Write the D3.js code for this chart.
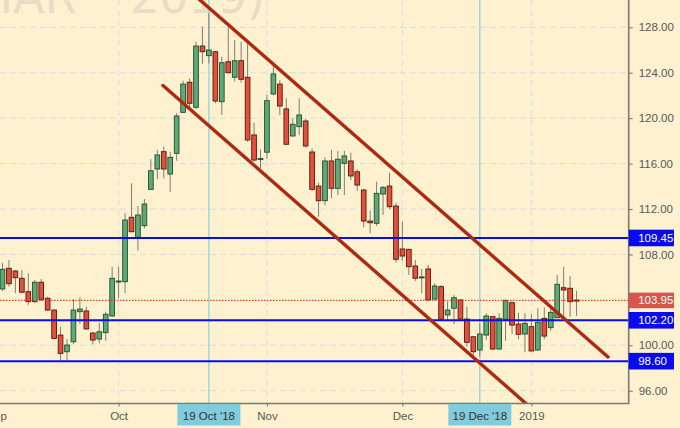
<!DOCTYPE html>
<html><head><meta charset="utf-8">
<script src="https://cdn.jsdelivr.net/npm/d3@7"></script>
<style>
html,body{margin:0;padding:0;background:#fdf1cf;}
svg{display:block;font-family:"Liberation Sans",Arial,sans-serif;}
</style>
</head><body>
<svg id="chart" width="680" height="428"></svg>
<script>
// ---------- data ----------
const startDate = "2018-09-04";
const endDate = "2019-01-11";
const holidays = ["2018-11-22", "2018-12-25", "2019-01-01"];

const open = [105.4,104.96,106.78,106.54,105.9,104.72,103.84,105.55,104.14,103.1,
  100.9,99.43,100.31,102.96,103.02,101.08,100.55,101.11,102.58,105.57,
  105.6,111.27,109.51,110.53,113.73,115.52,117.05,115.08,116.9,120.51,
  123.16,120.96,126.35,125.5,125.85,121.45,124.97,123.6,125.06,123.6,
  118.52,116.35,117.0,122.13,123.0,120.81,118.43,119.25,119.75,117.02,
  114.02,112.73,116.23,113.82,116.02,116.23,115.28,113.67,110.94,110.74,
  113.32,114.02,112.26,108.48,108.45,106.98,105.97,106.72,104.07,105.16,
  102.67,103.26,103.99,102.31,100.75,99.58,100.9,102.52,99.67,102.29,
  103.75,101.87,100.99,101.64,99.58,102.37,101.55,102.43,105.07,105.02,103.98];
const high = [106.0,107.25,107.51,106.63,106.63,106.36,105.75,105.84,104.28,103.19,
  101.64,100.55,104.05,104.22,103.4,101.19,101.99,102.96,106.92,106.92,
  111.62,114.26,112.26,112.88,116.38,117.2,117.5,117.05,120.43,123.3,
  123.5,126.73,128.05,129.23,125.9,125.41,128.05,126.88,126.73,126.59,
  119.6,117.26,122.04,124.68,123.36,121.75,119.99,121.75,119.95,117.34,
  114.32,116.55,117.2,117.13,117.13,116.96,115.5,113.8,111.85,114.4,
  114.02,115.2,112.56,110.88,108.5,107.51,106.72,107.07,105.46,105.3,
  103.84,104.43,104.05,103.4,100.8,101.93,102.82,102.6,102.82,104.05,
  103.85,102.87,102.82,102.73,103.25,103.34,103.55,106.19,106.92,106.1,104.8];
const low = [104.6,104.8,105.16,104.6,104.6,103.55,103.72,103.9,103.04,100.55,
  98.7,98.7,100.11,101.87,101.35,100.09,100.17,100.4,102.52,104.14,
  104.58,109.95,108.33,110.3,113.7,114.62,114.7,113.52,116.25,120.45,
  120.96,120.78,124.77,124.83,121.31,120.28,123.95,123.21,123.12,117.93,
  116.16,115.58,116.4,122.0,120.28,117.64,118.37,118.52,117.4,113.61,
  111.32,112.35,112.94,113.23,113.23,114.55,113.61,110.39,109.86,110.5,
  111.47,111.97,107.27,107.45,106.19,105.66,104.58,103.95,103.99,102.22,
  102.22,101.87,102.25,99.87,99.0,99.0,100.46,99.6,99.6,100.4,
  100.99,100.53,99.38,99.45,99.55,100.53,101.28,102.37,102.37,102.52,102.6];
const close = [105.0,106.69,105.42,105.95,104.67,103.84,105.55,104.05,103.1,100.61,
  99.29,100.02,103.1,103.19,101.44,100.46,101.19,102.73,105.9,105.66,
  111.03,110.0,111.47,112.44,115.37,116.76,115.52,116.55,120.19,123.0,
  121.31,126.35,125.85,126.0,121.51,124.88,124.0,125.06,123.42,118.08,
  116.31,116.45,121.54,123.89,121.07,117.7,119.46,120.28,117.55,113.73,
  112.73,116.23,113.82,116.38,116.67,114.91,114.11,110.94,110.79,113.38,
  113.91,112.2,107.57,107.86,106.92,105.9,106.02,103.99,105.22,102.31,
  103.1,104.19,102.31,100.26,99.43,100.99,102.58,99.67,102.37,103.93,
  101.78,100.97,101.93,99.5,102.02,100.81,102.9,105.37,104.87,103.84,103.95];

const tickLabels = ["Sep", "Oct", "Nov", "Dec", "2019"];
const priceTicks = [96, 100, 104, 108, 112, 116, 120, 124, 128];
const levels = [109.45, 102.20, 98.60];
const lastPrice = 103.95;
const markerDates = ["2018-10-19", "2018-12-19"];
const markerLabels = ["19 Oct '18", "19 Dec '18"];
// channel lines: [candle index, price]
const channelUpper = [[30.84, 130.79], [94.88, 98.97]];
const channelLower = [[25.88, 122.87], [82.78, 94.56]];
const watermark = ["HAR", "2019)"];

// ---------- build ----------
const parse = d3.utcParse("%Y-%m-%d");
const fmtDay = d3.utcFormat("%Y-%m-%d");
const dates = d3.utcDay.range(parse(startDate), d3.utcDay.offset(parse(endDate), 1))
  .filter(d => d.getUTCDay() !== 0 && d.getUTCDay() !== 6 && !holidays.includes(fmtDay(d)));
const candles = dates.map((d, i) => ({i, date: d, o: open[i], h: high[i], l: low[i], c: close[i]}));

// month-start indices
const monthStarts = [];
dates.forEach((d, i) => { if (i === 0 || d.getUTCMonth() !== dates[i - 1].getUTCMonth()) monthStarts.push(i); });

const W = 680, H = 428;
const plotR = 628.7, plotB = 403.5;
const x = d3.scaleLinear().domain([0, dates.length - 1]).range([-3.95, -3.95 + 6.45 * (dates.length - 1)]);
const y = d3.scaleLinear().domain([96, 128]).range([390.7, 27.3]);

const svg = d3.select("#chart");
svg.append("rect").attr("width", W).attr("height", H).attr("fill", "#fdf1cf");

svg.append("defs").append("clipPath").attr("id", "plot")
  .append("rect").attr("x", 0).attr("y", 0).attr("width", plotR).attr("height", plotB);

const g = svg.append("g").attr("clip-path", "url(#plot)");

// watermark
const wm = g.append("text").attr("y", 13).attr("font-size", 46)
  .attr("font-family", "DejaVu Sans, sans-serif").attr("fill", "#e6ddc3");
wm.append("tspan").attr("x", -21.6).text(watermark[0]);
wm.append("tspan").attr("x", 130).text(watermark[1]);

// grid
g.append("g").selectAll("line").data(priceTicks).join("line")
  .attr("x1", 0).attr("x2", plotR).attr("y1", d => y(d)).attr("y2", d => y(d))
  .attr("stroke", "#d9dde0").attr("stroke-width", 1).attr("stroke-dasharray", "6,4");
g.append("g").selectAll("line").data(monthStarts).join("line")
  .attr("x1", d => x(d)).attr("x2", d => x(d)).attr("y1", 0).attr("y2", plotB)
  .attr("stroke", "#d9dde0").attr("stroke-width", 1).attr("stroke-dasharray", "6,4");

// marker vertical lines
const markerIdx = markerDates.map(s => dates.findIndex(d => fmtDay(d) === s));
g.append("g").selectAll("line").data(markerIdx).join("line")
  .attr("x1", d => x(d)).attr("x2", d => x(d)).attr("y1", 0).attr("y2", plotB)
  .attr("stroke", "#86d0df").attr("stroke-width", 1.2);

// candles
const bw = 4.7;
const cg = g.append("g");
cg.selectAll("line.wick").data(candles).join("line").attr("class", "wick")
  .attr("x1", d => x(d.i)).attr("x2", d => x(d.i))
  .attr("y1", d => y(d.h)).attr("y2", d => y(d.l))
  .attr("stroke", "#7d7d78").attr("stroke-width", 1);
cg.selectAll("rect.body").data(candles).join("rect").attr("class", "body")
  .attr("x", d => x(d.i) - bw / 2).attr("width", bw)
  .attr("y", d => y(Math.max(d.o, d.c)))
  .attr("height", d => Math.max(1, Math.abs(y(d.o) - y(d.c))))
  .attr("fill", d => d.c >= d.o ? "#5fa878" : "#e0513d")
  .attr("stroke", d => d.c >= d.o ? "#1e4d2d" : "#5a160c")
  .attr("stroke-width", 0.9);

// red dotted last price
g.append("line").attr("x1", 0).attr("x2", plotR).attr("y1", y(lastPrice)).attr("y2", y(lastPrice))
  .attr("stroke", "#e0301e").attr("stroke-width", 1).attr("stroke-dasharray", "1.5,1.5");

// blue level lines
g.append("g").selectAll("line").data(levels).join("line")
  .attr("x1", 0).attr("x2", plotR).attr("y1", d => y(d)).attr("y2", d => y(d))
  .attr("stroke", "#0a0af0").attr("stroke-width", 2);

// channel lines
const line = d3.line().x(d => x(d[0])).y(d => y(d[1]));
[channelUpper, channelLower].forEach(ch => {
  g.append("path").attr("d", line(ch)).attr("fill", "none")
    .attr("stroke", "#ad2a10").attr("stroke-width", 3.4).attr("stroke-linecap", "round");
});

// right axis
const yAxis = d3.axisRight(y).tickValues(priceTicks).tickFormat(d3.format(".2f")).tickSize(4).tickPadding(6);
const ya = svg.append("g").attr("transform", `translate(${plotR},0)`).call(yAxis);
ya.select(".domain").remove();
ya.selectAll(".tick line").attr("stroke", "#707068");
ya.selectAll(".tick text").attr("fill", "#585858").attr("font-size", 11.5).attr("font-family", "Liberation Sans, Arial, sans-serif");

// bottom axis
const xAxis = d3.axisBottom(x).tickValues(monthStarts).tickFormat((d, k) => tickLabels[k]).tickSize(3).tickPadding(5);
const xa = svg.append("g").attr("transform", `translate(0,${plotB})`).call(xAxis);
xa.select(".domain").remove();
xa.selectAll(".tick line").attr("stroke", "#707068");
xa.selectAll(".tick text").attr("fill", "#585858").attr("font-size", 11.5).attr("font-family", "Liberation Sans, Arial, sans-serif");

// axis lines
svg.append("path").attr("d", `M0,${plotB}H${plotR}V0`).attr("fill", "none")
  .attr("stroke", "#7a7a70").attr("stroke-width", 1.6);

// level labels
const lab = svg.append("g");
levels.forEach(v => {
  lab.append("rect").attr("x", plotR).attr("y", y(v) - 8.3).attr("width", 45.3).attr("height", 16.6).attr("fill", "#0a0af0");
  lab.append("text").attr("x", plotR + 9.5).attr("y", y(v)).attr("dy", "0.35em")
    .attr("fill", "#fff").attr("font-size", 11.5).text(d3.format(".2f")(v));
});
lab.append("rect").attr("x", plotR).attr("y", y(lastPrice) - 7.8).attr("width", 45.3).attr("height", 15.6).attr("fill", "#d5574b");
lab.append("text").attr("x", plotR + 9.5).attr("y", y(lastPrice)).attr("dy", "0.35em")
  .attr("fill", "#fff").attr("font-size", 11.5).text(d3.format(".2f")(lastPrice));

// date marker labels
markerIdx.forEach((mi, k) => {
  const cx = x(mi);
  lab.append("rect").attr("x", cx - 31.5).attr("y", plotB + 0.5).attr("width", 63).attr("height", 21.5).attr("fill", "#80cbdc");
  lab.append("text").attr("x", cx).attr("y", plotB + 12).attr("dy", "0.35em").attr("text-anchor", "middle")
    .attr("fill", "#333").attr("font-size", 11.5).text(markerLabels[k]);
});
</script>
</body></html>
